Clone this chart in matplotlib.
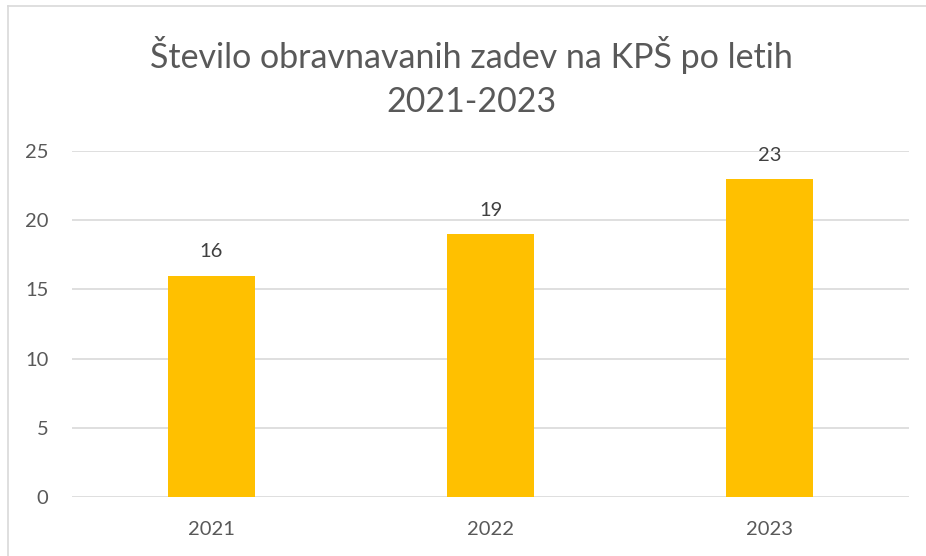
import matplotlib.pyplot as plt
from matplotlib.lines import Line2D

years = ['2021', '2022', '2023']
counts = [16, 19, 23]
yticks = [0, 5, 10, 15, 20, 25]

title = 'Število obravnavanih zadev na KPŠ po letih\n2021-2023'
textColor = '#595959'
barColor = '#FFC000'

plt.rcParams['font.family'] = ['Lato', 'DejaVu Sans']

fig = plt.figure(figsize=(9.26, 5.56), dpi=100)
ax = fig.add_axes([72 / 926, 1 - 497 / 556, 837 / 926, 346 / 556])

x = range(len(years))
bars = ax.bar(x, counts, width=0.31, color=barColor, zorder=3)
for xi, v in zip(x, counts):
    ax.annotate(str(v), (xi, v), xytext=(0, 17), textcoords='offset points',
                ha='center', va='center', fontsize=14.5, color='#404040')

ax.set_xlim(-0.5, len(years) - 0.5)
ax.set_ylim(0, 25)
ax.set_yticks(yticks)
ax.set_xticks(list(x))
ax.set_xticklabels(years)
ax.grid(axis='y', color='#d9d9d9', linewidth=1.2, zorder=0)
for s in ax.spines.values():
    s.set_visible(False)
ax.tick_params(axis='both', length=0, labelsize=14.5, labelcolor=textColor)
ax.tick_params(axis='y', pad=17)
ax.tick_params(axis='x', pad=17)

fig.text(471 / 926, 1 - 77 / 556, title, ha='center', va='center', fontsize=24.5,
         color=textColor, linespacing=1.45)

# chart frame: only left and top edges show in the crop
fig.add_artist(Line2D([8 / 926, 8 / 926], [0, 1 - 6 / 556], transform=fig.transFigure,
                      color='#d9d9d9', linewidth=1.2))
fig.add_artist(Line2D([8 / 926, 1], [1 - 6 / 556, 1 - 6 / 556], transform=fig.transFigure,
                      color='#d9d9d9', linewidth=1.2))

fig.savefig('out.png', dpi=100)
